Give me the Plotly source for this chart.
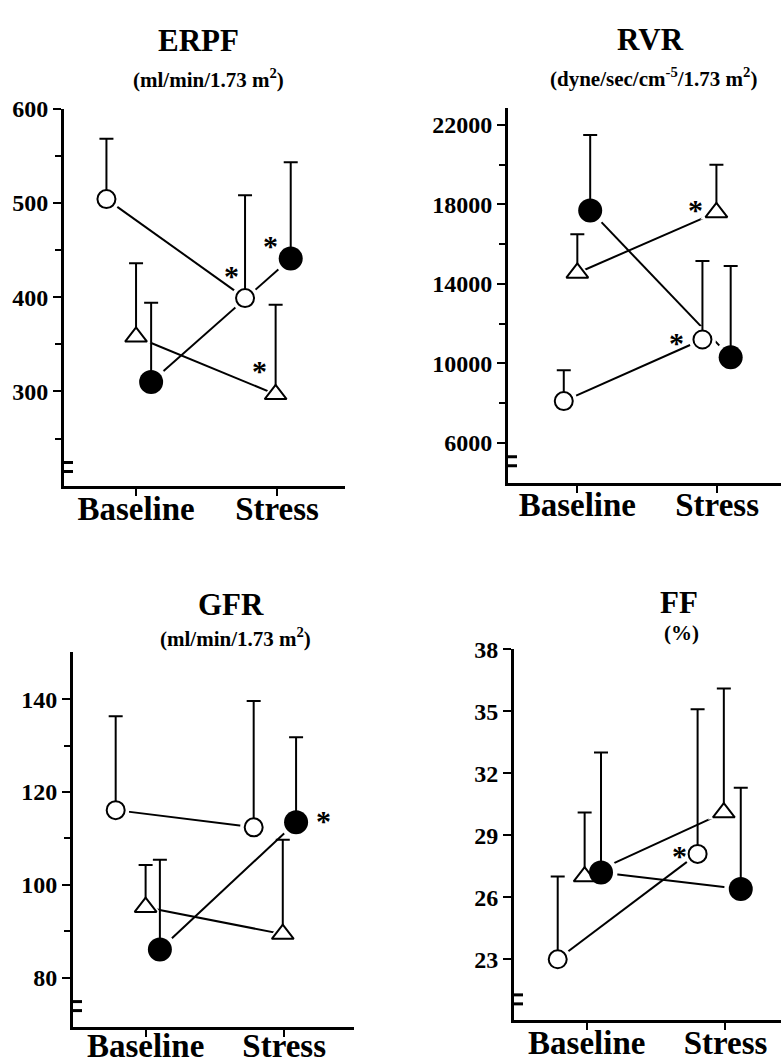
import plotly.graph_objects as go

W, H = 781, 1064

categories = ["Baseline", "Stress"]
series_names = ["Open circle", "Open triangle", "Filled circle"]

# ERPF (ml/min/1.73 m2)
erpf_open = [504, 399]
erpf_open_sd = [64, 109]
erpf_tri = [358, 297]
erpf_tri_sd = [78, 95]
erpf_fill = [310, 441]
erpf_fill_sd = [84, 102]

# RVR (dyne/sec/cm-5/1.73 m2)
rvr_open = [8100, 11200]
rvr_open_sd = [1550, 3950]
rvr_tri = [14550, 17600]
rvr_tri_sd = [1950, 2400]
rvr_fill = [17700, 10300]
rvr_fill_sd = [3800, 4600]

# GFR (ml/min/1.73 m2)
gfr_open = [116.1, 112.4]
gfr_open_sd = [20.2, 27.2]
gfr_tri = [95.2, 89.4]
gfr_tri_sd = [9.1, 20.3]
gfr_fill = [86.1, 113.5]
gfr_fill_sd = [19.3, 18.3]

# FF (%)
ff_open = [23.0, 28.1]
ff_open_sd = [4.0, 7.0]
ff_tri = [27.0, 30.1]
ff_tri_sd = [3.1, 6.0]
ff_fill = [27.2, 26.4]
ff_fill_sd = [5.8, 4.9]

erpf_ticks = [300, 400, 500, 600]
rvr_ticks = [6000, 10000, 14000, 18000, 22000]
gfr_ticks = [80, 100, 120, 140]
ff_ticks = [23, 26, 29, 32, 35, 38]

FONT = "Liberation Serif"


def px(xp):
    return xp / W


def py(yp):
    return 1 - yp / H


panels = [
    dict(title="ERPF", sub="(ml/min/1.73 m<sup>2</sup>)",
         tpos=(198, 28), spos=(208, 67),
         xdom=(64, 345), ydom=(97, 480),
         xr=[0.489, 2.482], yr=[200, 600],
         ticks=erpf_ticks, minor=[250, 350, 450, 550], brk=220, lstand=-15,
         series=[(erpf_open, erpf_open_sd), (erpf_tri, erpf_tri_sd), (erpf_fill, erpf_fill_sd)],
         offs=[[-0.21, -0.227], [0.0, -0.01], [0.107, 0.097]],
         stars=[(1.68, 430), (1.955, 462), (1.876, 330)]),
    dict(title="RVR", sub="(dyne/sec/cm<sup>-5</sup>/1.73 m<sup>2</sup>)",
         tpos=(650, 27), spos=(653, 65),
         xdom=(508, 781), ydom=(96, 477),
         xr=[0.504, 2.457], yr=[3982, 22880],
         ticks=rvr_ticks, minor=[8000, 12000, 16000, 20000], brk=5075, lstand=-16,
         series=[(rvr_open, rvr_open_sd), (rvr_tri, rvr_tri_sd), (rvr_fill, rvr_fill_sd)],
         offs=[[-0.097, -0.105], [0.0, -0.005], [0.092, 0.097]],
         stars=[(1.848, 18089), (1.709, 11404)]),
    dict(title="GFR", sub="(ml/min/1.73 m<sup>2</sup>)",
         tpos=(231, 601), spos=(235, 634),
         xdom=(73, 354), ydom=(649, 1029),
         xr=[0.476, 2.504], yr=[69.5, 150.1],
         ticks=gfr_ticks, minor=[90, 110, 130], brk=73.9, lstand=-19,
         series=[(gfr_open, gfr_open_sd), (gfr_tri, gfr_tri_sd), (gfr_fill, gfr_fill_sd)],
         offs=[[-0.216, -0.22], [0.0, -0.01], [0.103, 0.086]],
         stars=[(2.283, 115.4)]),
    dict(title="FF", sub="(%)",
         tpos=(679, 598), spos=(681, 629),
         xdom=(514, 781), ydom=(646, 1022),
         xr=[0.476, 2.400], yr=[20.08, 38],
         ticks=ff_ticks, minor=[], brk=21.06, lstand=-15,
         series=[(ff_open, ff_open_sd), (ff_tri, ff_tri_sd), (ff_fill, ff_fill_sd)],
         offs=[[-0.209, -0.201], [-0.015, -0.012], [0.103, 0.11]],
         stars=[(1.668, 28.35)]),
]

marker_styles = [
    dict(symbol="circle", size=18, color="white", line=dict(color="black", width=2)),
    dict(symbol="triangle-up", size=19, color="white", line=dict(color="black", width=2)),
    dict(symbol="circle", size=24, color="black", line=dict(color="black", width=0)),
]

fig = go.Figure()
layout = dict(width=W, height=H, margin=dict(l=0, r=0, t=0, b=0),
              paper_bgcolor="white", plot_bgcolor="white", showlegend=False)
annotations = []
shapes = []

for i, p in enumerate(panels):
    n = "" if i == 0 else str(i + 1)
    xa, ya = "x" + n, "y" + n
    xs_list = []
    for k, (vals, sd) in enumerate(p["series"]):
        xs = [j + 1 + p["offs"][k][j] for j in range(len(categories))]
        xs_list.append(xs)
        fig.add_trace(go.Scatter(x=xs, y=vals, mode="lines", name=series_names[k],
                                 line=dict(color="black", width=2), xaxis=xa, yaxis=ya,
                                 hoverinfo="skip"))
    for k, (vals, sd) in enumerate(p["series"]):
        ms = marker_styles[k]
        fig.add_trace(go.Scatter(x=xs_list[k], y=vals, mode="markers",
                                 marker=dict(symbol=ms["symbol"], size=ms["size"] + 9, color="white",
                                             line=dict(width=0)),
                                 xaxis=xa, yaxis=ya, hoverinfo="skip"))
    for k, (vals, sd) in enumerate(p["series"]):
        fig.add_trace(go.Scatter(x=xs_list[k], y=vals, mode="markers", name=series_names[k],
                                 marker=marker_styles[k],
                                 error_y=dict(type="data", symmetric=False, array=sd,
                                              arrayminus=[0] * len(sd), color="black",
                                              thickness=2, width=7),
                                 xaxis=xa, yaxis=ya))
    layout["xaxis" + n] = dict(domain=[px(p["xdom"][0]), px(p["xdom"][1])], range=p["xr"],
                               anchor=ya, showline=True, linewidth=3, linecolor="black",
                               showgrid=False, zeroline=False, ticks="outside", ticklen=7,
                               tickwidth=2, tickcolor="black", ticklabelstandoff=p["lstand"],
                               tickvals=[1, 2], ticktext=categories,
                               tickfont=dict(family=FONT, size=33, color="black", weight="bold"))
    layout["yaxis" + n] = dict(domain=[py(p["ydom"][1]), py(p["ydom"][0])], range=p["yr"],
                               anchor=xa, showline=True, linewidth=3, linecolor="black",
                               showgrid=False, zeroline=False, ticks="outside", ticklen=8,
                               tickwidth=2, tickcolor="black",
                               tickvals=p["ticks"], ticktext=[str(t) for t in p["ticks"]],
                               tickfont=dict(family=FONT, size=24, color="black", weight="bold"),
                               minor=dict(tickvals=p["minor"], ticklen=6, tickwidth=2,
                                          tickcolor="black", ticks="outside", showgrid=False))
    annotations.append(dict(text=p["title"], x=px(p["tpos"][0]), y=py(p["tpos"][1]),
                            xref="paper", yref="paper", showarrow=False,
                            xanchor="center", yanchor="middle",
                            font=dict(family=FONT, size=31, color="black", weight="bold")))
    annotations.append(dict(text=p["sub"], x=px(p["spos"][0]), y=py(p["spos"][1]),
                            xref="paper", yref="paper", showarrow=False,
                            xanchor="center", yanchor="middle",
                            font=dict(family=FONT, size=21, color="black", weight="bold")))
    for (sx, sy) in p["stars"]:
        annotations.append(dict(text="*", x=sx, y=sy, xref=xa, yref=ya, showarrow=False,
                                xanchor="center", yanchor="middle", yshift=-7,
                                font=dict(family=FONT, size=30, color="black", weight="bold")))
    # axis break marks
    shapes.append(dict(type="rect", xref=xa, yref=ya, xsizemode="pixel", ysizemode="pixel",
                       xanchor=p["xr"][0], yanchor=p["brk"], x0=-6, x1=6, y0=-4, y1=4,
                       fillcolor="white", line=dict(width=0), layer="above"))
    for dy in (-4.5, 4.5):
        shapes.append(dict(type="line", xref=xa, yref=ya, xsizemode="pixel", ysizemode="pixel",
                           xanchor=p["xr"][0], yanchor=p["brk"], x0=-6, x1=9, y0=dy, y1=dy,
                           line=dict(color="black", width=3), layer="above"))

layout["annotations"] = annotations
layout["shapes"] = shapes
fig.update_layout(**layout)
fig.write_html("out.html")
